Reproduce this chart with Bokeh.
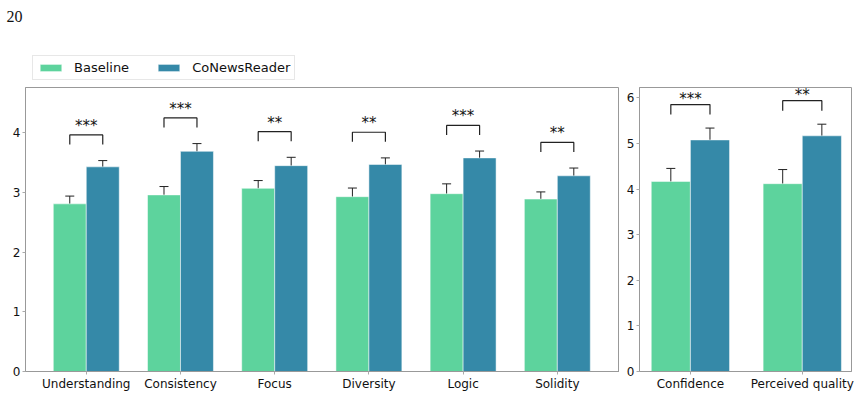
from bokeh.plotting import figure
from bokeh.models import ColumnDataSource, Whisker, Legend, LegendItem, Label, FixedTicker, TeeHead, Range1d
from bokeh.transform import dodge
from bokeh.layouts import row, column
from bokeh.core.properties import value
from bokeh.embed import file_html
from bokeh.resources import INLINE

left_categories = ["Understanding", "Consistency", "Focus", "Diversity", "Logic", "Solidity"]
left_baseline = [2.81, 2.96, 3.07, 2.93, 2.98, 2.89]
left_baseline_err = [0.13, 0.14, 0.13, 0.145, 0.165, 0.12]
left_conews = [3.43, 3.69, 3.45, 3.47, 3.58, 3.28]
left_conews_err = [0.105, 0.13, 0.14, 0.11, 0.115, 0.13]
left_sig = ["***", "***", "**", "**", "***", "**"]
left_yticks = [0, 1, 2, 3, 4]

right_categories = ["Confidence", "Perceived quality"]
right_baseline = [4.17, 4.12]
right_baseline_err = [0.285, 0.31]
right_conews = [5.08, 5.17]
right_conews_err = [0.26, 0.255]
right_sig = ["***", "**"]
right_yticks = [0, 1, 2, 3, 4, 5, 6]

series_names = ["Baseline", "CoNewsReader"]
page_number = "20"

GREEN = "#5dd39d"
BLUE = "#3589a8"
FONT = "DejaVu Sans"
W = 0.35


def make_source(base, berr, co, cerr, sig, gap):
    idx = list(range(len(base)))
    tops = [c + e + gap for c, e in zip(co, cerr)]
    return ColumnDataSource(dict(
        x=idx, base=base, co=co,
        base_lo=[b - e for b, e in zip(base, berr)],
        base_hi=[b + e for b, e in zip(base, berr)],
        co_lo=[c - e for c, e in zip(co, cerr)],
        co_hi=[c + e for c, e in zip(co, cerr)],
        top=tops, sig=sig))


def draw_bars(p, src):
    rb = p.vbar(x=dodge("x", -W / 2, range=p.x_range), top="base", width=W,
                source=src, fill_color=GREEN, line_color="white",
                line_alpha=0.5, line_width=1)
    rc = p.vbar(x=dodge("x", W / 2, range=p.x_range), top="co", width=W,
                source=src, fill_color=BLUE, line_color="white",
                line_alpha=0.5, line_width=1)
    return rb, rc


def panel(cats, src, yticks, x_range, y_end, frame_w, border_left, border_right,
          leg, star_offset):
    p = figure(frame_width=frame_w, frame_height=284, x_range=x_range,
               y_range=Range1d(0, y_end), output_backend="svg",
               toolbar_location=None, min_border_left=border_left,
               min_border_right=border_right, min_border_top=0,
               min_border_bottom=23)
    idx = list(range(len(cats)))
    draw_bars(p, src)
    for off, lo, hi in ((-W / 2, "base_lo", "base_hi"), (W / 2, "co_lo", "co_hi")):
        wk = Whisker(base=dodge("x", off, range=p.x_range), lower=lo, upper=hi,
                     source=src, line_color="#222222", line_width=1,
                     upper_head=TeeHead(size=9, line_color="#222222", line_width=1),
                     lower_head=TeeHead(size=9, line_color="#222222", line_width=1))
        p.add_layout(wk)
    tops = src.data["top"]
    xs = [[i - W / 2, i - W / 2, i + W / 2, i + W / 2] for i in idx]
    ys = [[t - leg, t, t, t - leg] for t in tops]
    p.multi_line(xs=xs, ys=ys, line_color="#222222", line_width=1.2)
    p.text(x="x", y="top", text="sig", source=src, text_font=value(FONT),
           text_font_size="15px", text_align="center", text_baseline="bottom",
           text_color="#111111", y_offset=star_offset)

    p.xaxis.ticker = FixedTicker(ticks=idx)
    p.xaxis.major_label_overrides = {i: c for i, c in zip(idx, cats)}
    p.yaxis.ticker = FixedTicker(ticks=yticks)
    for ax in (p.xaxis, p.yaxis):
        ax.axis_line_color = "#999999"
        ax.major_tick_line_color = "#aaaaaa"
        ax.major_tick_out = 3
        ax.major_tick_in = 0
        ax.minor_tick_out = 0
        ax.minor_tick_in = 0
        ax.major_label_text_font = FONT
        ax.major_label_text_font_size = "12px"
        ax.major_label_text_color = "#111111"
        ax.major_label_standoff = 2
    p.xgrid.visible = False
    p.ygrid.visible = False
    p.outline_line_color = "#999999"
    p.outline_line_alpha = 1
    p.background_fill_color = "white"
    p.border_fill_color = "white"
    return p


left_src = make_source(left_baseline, left_baseline_err, left_conews, left_conews_err, left_sig, 0.43)
right_src = make_source(right_baseline, right_baseline_err, right_conews, right_conews_err, right_sig, 0.515)

p1 = panel(left_categories, left_src, left_yticks, Range1d(-0.645, 5.66),
           4.76, 594, 25, 0, 0.16, 0)
p2 = panel(right_categories, right_src, right_yticks, Range1d(-0.455, 1.44),
           6.23, 212, 20, 12, 0.22, 3)

# header strip holding the page number and the shared legend
# (its bars are hidden helpers so that the legend can show the series swatches)
hdr = figure(width=863, height=87, min_border=0, x_axis_type=None, y_axis_type=None,
             x_range=Range1d(-101, -100), y_range=Range1d(-11, -10), output_backend="svg",
             toolbar_location=None)
hdr.outline_line_color = None
hdr.xgrid.visible = False
hdr.ygrid.visible = False
hb, hc = draw_bars(hdr, left_src)
hb.visible = False
hc.visible = False
legend = Legend(items=[LegendItem(label=series_names[0], renderers=[hb]),
                       LegendItem(label=series_names[1], renderers=[hc])],
                location=(32, 7), orientation="horizontal",
                label_text_font=FONT, label_text_font_size="13px",
                label_text_color="#111111",
                glyph_width=27, glyph_height=9, label_standoff=10, spacing=26,
                padding=4, margin=0, label_height=14,
                border_line_color="#d0d0d0", border_line_width=1,
                background_fill_alpha=1, inactive_fill_alpha=0)
hdr.add_layout(legend, "center")
hdr.add_layout(Label(x=6, y=71, x_units="screen", y_units="screen", text=page_number,
                     text_font="Liberation Serif", text_font_size="16px",
                     text_baseline="alphabetic", text_color="#111111"))

layout = column(hdr, row(p1, p2))
open("out.html", "w").write(file_html(layout, INLINE))
